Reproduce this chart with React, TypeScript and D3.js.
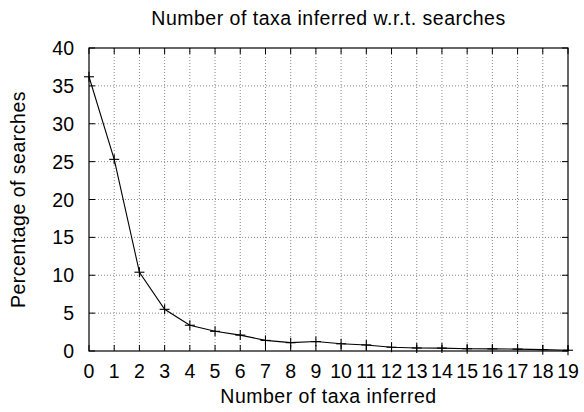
import React from 'react';
import * as d3 from 'd3';

const taxaCounts = [0, 1, 2, 3, 4, 5, 6, 7, 8, 9, 10, 11, 12, 13, 14, 15, 16, 17, 18, 19];
const searchPct = [36.2, 25.3, 10.4, 5.5, 3.4, 2.6, 2.1, 1.4, 1.1, 1.25, 0.95, 0.8, 0.5, 0.4, 0.38, 0.3, 0.28, 0.25, 0.18, 0.1];
const yTicks = [0, 5, 10, 15, 20, 25, 30, 35, 40];

const W = 584;
const H = 412;
const margin = { top: 48, right: 16, bottom: 61, left: 89 };
const font = '"Liberation Sans", Arial, sans-serif';

export default function App() {
  const width = W - margin.left - margin.right;
  const height = H - margin.top - margin.bottom;

  const x = d3.scaleLinear().domain([0, 19]).range([0, width]);
  const y = d3.scaleLinear().domain([0, 40]).range([height, 0]);

  const line = d3.line<number>()
    .x((_, i) => x(taxaCounts[i]))
    .y(d => y(d));

  const tk = 6;
  const cross = 5;

  return (
    <svg width={W} height={H} style={{ position: 'absolute', left: 0, top: 0, background: '#fff' }}>
      <text x={margin.left + width / 2} y={25} textAnchor="middle" fontFamily={font} fontSize={19.5}
        letterSpacing={0.5}>
        Number of taxa inferred w.r.t. searches
      </text>
      <g transform={`translate(${margin.left},${margin.top})`}>
        {/* grid */}
        {taxaCounts.slice(1, -1).map(t => (
          <line key={'gx' + t} x1={x(t)} x2={x(t)} y1={0} y2={height}
            stroke="#888" strokeWidth={1} strokeDasharray="1,2" />
        ))}
        {yTicks.slice(1, -1).map(t => (
          <line key={'gy' + t} x1={0} x2={width} y1={y(t)} y2={y(t)}
            stroke="#888" strokeWidth={1} strokeDasharray="1,2" />
        ))}
        {/* ticks, mirrored */}
        {taxaCounts.map(t => (
          <g key={'tx' + t}>
            <line x1={x(t)} x2={x(t)} y1={height} y2={height - tk} stroke="#000" />
            <line x1={x(t)} x2={x(t)} y1={0} y2={tk} stroke="#000" />
            <text x={x(t)} y={height + 27} textAnchor="middle" fontFamily={font} fontSize={19.5}>{t}</text>
          </g>
        ))}
        {yTicks.map(t => (
          <g key={'ty' + t}>
            <line x1={0} x2={tk} y1={y(t)} y2={y(t)} stroke="#000" />
            <line x1={width} x2={width - tk} y1={y(t)} y2={y(t)} stroke="#000" />
            <text x={-15} y={y(t) + 7} textAnchor="end" fontFamily={font} fontSize={19.5}>{t}</text>
          </g>
        ))}
        <rect x={0} y={0} width={width} height={height} fill="none" stroke="#000" strokeWidth={1.2} />
        {/* series */}
        <path d={line(searchPct) || ''} fill="none" stroke="#000" strokeWidth={1.1} />
        {searchPct.map((v, i) => (
          <g key={'p' + i} stroke="#000" strokeWidth={1.1}>
            <line x1={x(taxaCounts[i]) - cross} x2={x(taxaCounts[i]) + cross} y1={y(v)} y2={y(v)} />
            <line x1={x(taxaCounts[i])} x2={x(taxaCounts[i])} y1={y(v) - cross} y2={y(v) + cross} />
          </g>
        ))}
      </g>
      <text x={margin.left + width / 2} y={403} textAnchor="middle" fontFamily={font} fontSize={19.5}
        letterSpacing={0.5}>
        Number of taxa inferred
      </text>
      <text transform={`translate(25,${margin.top + height / 2}) rotate(-90)`} textAnchor="middle"
        fontFamily={font} fontSize={19.5} letterSpacing={0.5}>
        Percentage of searches
      </text>
    </svg>
  );
}
